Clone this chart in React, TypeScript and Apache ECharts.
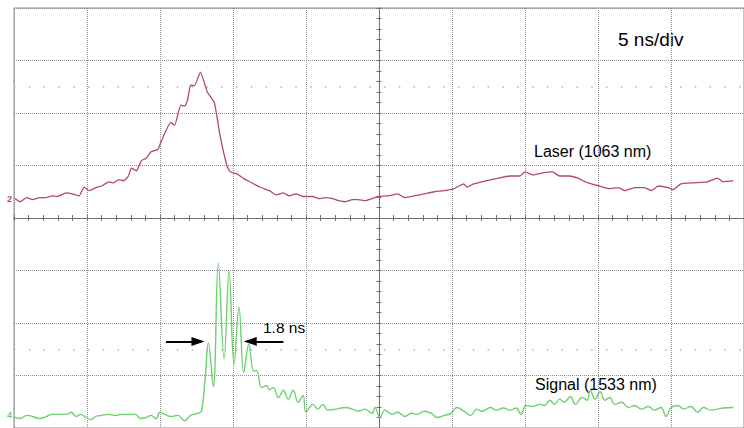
import React, { useEffect, useRef } from "react";
import * as echarts from "echarts";

// Oscilloscope screen: 10 horizontal divisions of 5 ns, 8 vertical divisions.
const nsPerDiv = 5;
const screenCentreNs = 25; // trigger / centre of the screen, ns from the left edge
const verticalDivs = 4; // divisions above and below the centre line

// Laser trace (1063 nm): [time in ns from left edge, level in divisions]
const laserTrace: [number, number][] = [
  [0.07, 0.37], [0.41, 0.31], [0.88, 0.39], [1.28, 0.35], [1.76, 0.39], [2.23, 0.39],
  [2.64, 0.42], [2.97, 0.41], [3.58, 0.48], [3.99, 0.46], [4.46, 0.42], [4.8, 0.59],
  [5.14, 0.52], [5.61, 0.58], [6.01, 0.61], [6.49, 0.69], [6.82, 0.67], [7.16, 0.73],
  [7.5, 0.71], [7.84, 0.8], [8.04, 0.95], [8.38, 0.9], [8.72, 1.09], [9.05, 1.14],
  [9.39, 1.26], [9.86, 1.31], [10.07, 1.45], [10.74, 1.82], [11.01, 1.77], [11.42, 2.15],
  [11.69, 2.13], [11.89, 2.25], [12.09, 2.53], [12.36, 2.52], [12.77, 2.78], [13.24, 2.4],
  [13.72, 2.2], [14.12, 1.56], [14.59, 0.99], [14.8, 0.88], [15.27, 0.84], [15.74, 0.75],
  [16.15, 0.69], [16.82, 0.59], [17.5, 0.52], [17.97, 0.44], [18.45, 0.48], [18.85, 0.42],
  [19.32, 0.46], [19.8, 0.41], [20.47, 0.41], [20.88, 0.37], [21.35, 0.39], [21.82, 0.37],
  [22.23, 0.33], [22.7, 0.31], [23.18, 0.35], [23.58, 0.35], [24.05, 0.33], [24.53, 0.37],
  [24.93, 0.41], [25.61, 0.42], [26.28, 0.46], [26.76, 0.39], [27.43, 0.42], [28.11, 0.46],
  [28.78, 0.5], [29.46, 0.52], [30.14, 0.56], [30.81, 0.65], [31.01, 0.59], [31.49, 0.65],
  [32.03, 0.69], [33.04, 0.75], [33.99, 0.8], [34.66, 0.8], [35.0, 0.88], [35.54, 0.82],
  [36.22, 0.86], [36.89, 0.88], [37.36, 0.8], [38.04, 0.8], [38.72, 0.75], [39.12, 0.69],
  [40.07, 0.61], [40.74, 0.56], [41.42, 0.58], [41.82, 0.52], [42.5, 0.58], [43.18, 0.58],
  [43.65, 0.52], [44.12, 0.61], [44.8, 0.58], [45.14, 0.54], [45.68, 0.65], [46.55, 0.67],
  [47.5, 0.69], [48.18, 0.76], [48.58, 0.69], [49.26, 0.71],
];

// Signal trace (1533 nm): [time in ns from left edge, level in divisions]
const signalTrace: [number, number][] = [
  [0.07, -3.8], [0.41, -3.82], [0.88, -3.76], [1.28, -3.78], [1.76, -3.82], [2.23, -3.78],
  [2.64, -3.74], [3.11, -3.74], [3.58, -3.74], [3.92, -3.7], [4.26, -3.78], [4.59, -3.74],
  [4.93, -3.8], [5.27, -3.84], [5.61, -3.78], [6.01, -3.76], [6.49, -3.74], [6.96, -3.76],
  [7.36, -3.74], [7.84, -3.74], [8.31, -3.74], [8.65, -3.82], [9.05, -3.8], [9.39, -3.76],
  [9.73, -3.82], [10.0, -3.7], [10.34, -3.74], [10.74, -3.78], [11.22, -3.76], [11.69, -3.86],
  [12.09, -3.76], [12.57, -3.72], [12.84, -3.68], [13.11, -2.98], [13.31, -2.38], [13.65, -3.21],
  [13.99, -0.86], [14.39, -2.68], [14.73, -1.01], [15.07, -2.79], [15.41, -1.7], [15.74, -2.94],
  [16.08, -2.41], [16.42, -2.91], [16.62, -2.91], [16.96, -3.23], [17.3, -3.19], [17.5, -3.27],
  [17.77, -3.23], [18.11, -3.42], [18.45, -3.28], [18.78, -3.45], [19.12, -3.28], [19.46, -3.51],
  [19.8, -3.38], [20.0, -3.7], [20.47, -3.55], [20.81, -3.64], [21.15, -3.55], [21.49, -3.66],
  [22.03, -3.64], [22.7, -3.61], [23.18, -3.64], [23.58, -3.68], [24.05, -3.64], [24.53, -3.72],
  [24.73, -3.61], [25.07, -3.8], [25.41, -3.66], [25.88, -3.74], [26.28, -3.7], [26.76, -3.78],
  [27.23, -3.72], [27.64, -3.74], [28.11, -3.68], [28.58, -3.72], [28.99, -3.8], [29.46, -3.76],
  [29.93, -3.72], [30.34, -3.61], [30.81, -3.68], [31.28, -3.76], [31.69, -3.64], [32.03, -3.68],
  [32.64, -3.61], [33.04, -3.66], [33.51, -3.62], [33.99, -3.66], [34.39, -3.62], [34.73, -3.74],
  [35.07, -3.57], [35.54, -3.59], [36.01, -3.55], [36.35, -3.57], [36.69, -3.47], [37.03, -3.55],
  [37.36, -3.45], [37.7, -3.51], [38.11, -3.4], [38.45, -3.55], [38.92, -3.42], [39.26, -3.47],
  [39.46, -3.28], [39.8, -3.45], [40.14, -3.31], [40.47, -3.47], [40.81, -3.42], [41.15, -3.55],
  [41.62, -3.51], [42.09, -3.61], [42.5, -3.57], [42.97, -3.64], [43.45, -3.59], [43.85, -3.66],
  [44.32, -3.61], [44.66, -3.78], [45.0, -3.61], [45.47, -3.57], [45.88, -3.64], [46.35, -3.59],
  [46.82, -3.7], [47.23, -3.61], [47.7, -3.66], [48.18, -3.64], [48.58, -3.62], [49.26, -3.61],
];

// Pulse-width arrows (1.8 ns): [from ns, to ns] at a level in divisions
const widthArrows: [number, number][] = [
  [10.41, 12.6],
  [18.45, 16.18],
];
const widthArrowLevel = -2.35;

// Graticule dotted rows (divisions)
const dottedRows = [2.5, -2.5];

const timebaseLabel = "5 ns/div";
const laserLabel = "Laser (1063 nm)";
const signalLabel = "Signal (1533 nm)";
const widthLabel = "1.8 ns";

const LASER_COLOR = "#b0477c";
const SIGNAL_COLOR = "#6fd06f";
const AXIS_COLOR = "#707070";
const FONT = '"Liberation Sans", Arial, sans-serif';

export default function App() {
  const ref = useRef<HTMLDivElement>(null);

  useEffect(() => {
    if (!ref.current) return;
    const chart = echarts.init(ref.current, undefined, { renderer: "svg" });
    const half = (nsPerDiv * 10) / 2;
    const toScreen = (p: [number, number]) => [p[0] - screenCentreNs, p[1]];

    const gridSplit = {
      show: true,
      lineStyle: { color: "#8e8e8e", type: [1, 1] as number[], width: 1 },
    };
    const centreX = (position: "top" | "bottom") => ({
      type: "value",
      min: -half,
      max: half,
      interval: nsPerDiv,
      position,
      axisLine: { show: true, onZero: true, onZeroAxisIndex: 0, lineStyle: { color: AXIS_COLOR, width: 1 } },
      axisTick: { show: true, length: 3, lineStyle: { color: AXIS_COLOR } },
      minorTick: { show: true, splitNumber: 5, length: 3, lineStyle: { color: AXIS_COLOR } },
      axisLabel: { show: false },
      splitLine: { show: false },
    });
    const centreY = (position: "left" | "right") => ({
      type: "value",
      min: -verticalDivs,
      max: verticalDivs,
      interval: 1,
      position,
      axisLine: { show: true, onZero: true, onZeroAxisIndex: 0, lineStyle: { color: AXIS_COLOR, width: 1 } },
      axisTick: { show: true, length: 2.5, lineStyle: { color: AXIS_COLOR } },
      minorTick: { show: true, splitNumber: 5, length: 2.5, lineStyle: { color: AXIS_COLOR } },
      axisLabel: { show: false },
      splitLine: { show: false },
    });

    chart.setOption({
      animation: false,
      backgroundColor: "#ffffff",
      grid: {
        left: 14,
        top: 8,
        right: -10,
        bottom: -2.9,
        show: true,
        borderColor: "#8a8a8a",
        borderWidth: 1,
      },
      xAxis: [
        {
          type: "value",
          min: -half,
          max: half,
          interval: nsPerDiv,
          axisLine: { show: false },
          axisTick: { show: false },
          axisLabel: { show: false },
          splitLine: gridSplit,
        },
        centreX("bottom"),
        centreX("top"),
      ],
      yAxis: [
        {
          type: "value",
          min: -verticalDivs,
          max: verticalDivs,
          interval: 1,
          axisLine: { show: false },
          axisTick: { show: false },
          axisLabel: { show: false },
          splitLine: gridSplit,
        },
        centreY("left"),
        centreY("right"),
      ],
      series: [
        {
          type: "line",
          name: laserLabel,
          xAxisIndex: 0,
          yAxisIndex: 0,
          data: laserTrace.map(toScreen),
          showSymbol: false,
          symbol: "none",
          smooth: 0.15,
          lineStyle: { color: LASER_COLOR, width: 1.3 },
          z: 5,
          markLine: {
            silent: true,
            symbol: "none",
            label: { show: false },
            lineStyle: { color: "#b4b4b4", type: [1.5, 13.3], width: 1.5 },
            data: dottedRows.map((v) => ({ yAxis: v })),
            z: 1,
          },
        },
        {
          type: "line",
          name: signalLabel,
          xAxisIndex: 0,
          yAxisIndex: 0,
          data: signalTrace.map(toScreen),
          showSymbol: false,
          symbol: "none",
          smooth: 0.4,
          lineStyle: { color: SIGNAL_COLOR, width: 1.4 },
          z: 5,
          markLine: {
            silent: true,
            symbol: ["none", "triangle"],
            symbolSize: [9, 13],
            label: { show: false },
            lineStyle: { color: "#000000", type: "solid", width: 2 },
            data: widthArrows.map(([a, b]) => [
              { coord: [a - screenCentreNs, widthArrowLevel] },
              { coord: [b - screenCentreNs, widthArrowLevel] },
            ]),
          },
        },
      ],
      graphic: [
        { type: "text", x: 618, y: 39, style: { text: timebaseLabel, font: `19px ${FONT}`, fill: "#000", verticalAlign: "middle" } },
        { type: "text", x: 534, y: 151, style: { text: laserLabel, font: `16px ${FONT}`, fill: "#000", verticalAlign: "middle" } },
        { type: "text", x: 535, y: 384, style: { text: signalLabel, font: `16px ${FONT}`, fill: "#000", verticalAlign: "middle" } },
        { type: "text", x: 263, y: 327, style: { text: widthLabel, font: `15.5px ${FONT}`, fill: "#000", verticalAlign: "middle" } },
        { type: "text", x: 7, y: 199, style: { text: "2", font: `bold 9px ${FONT}`, fill: LASER_COLOR, verticalAlign: "middle" } },
        { type: "text", x: 7, y: 415, style: { text: "4", font: `bold 9px ${FONT}`, fill: SIGNAL_COLOR, verticalAlign: "middle" } },
      ],
    });
    return () => chart.dispose();
  }, []);

  return (
    <div
      ref={ref}
      style={{ position: "fixed", left: 0, top: 0, width: 744, height: 428, background: "#fff" }}
    />
  );
}
